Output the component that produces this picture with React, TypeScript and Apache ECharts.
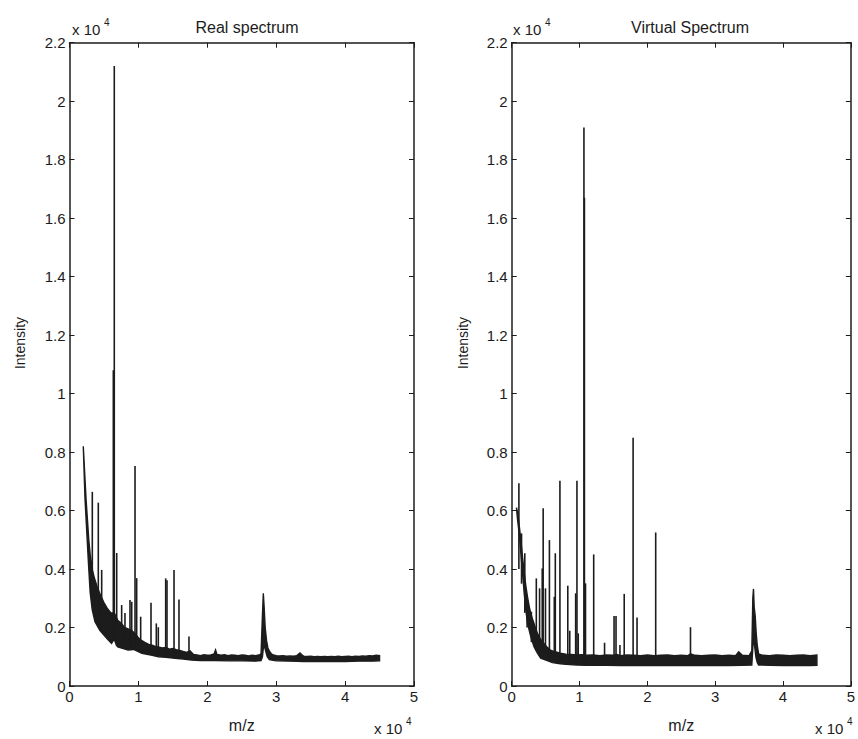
import React, { useEffect, useRef } from "react";
import * as echarts from "echarts";

// ---------- data ----------
const X_TICK_LABELS = ["0", "1", "2", "3", "4", "5"];
const Y_TICK_LABELS = ["0", "0.2", "0.4", "0.6", "0.8", "1", "1.2", "1.4", "1.6", "1.8", "2", "2.2"];
const TITLES = ["Real spectrum", "Virtual Spectrum"];
const X_NAME = "m/z";
const Y_NAME = "Intensity";

// Real spectrum: noisy baseline band (upper / lower envelope), [m/z, intensity]
const REAL_UPPER: number[][] = [
  [2000, 8200], [2200, 7300], [2400, 6400], [2600, 5700], [2800, 5000], [3000, 4500], [3300, 4000],
  [3600, 3700], [4000, 3400], [4500, 3100], [5000, 2850], [5500, 2650], [6000, 2500], [6500, 2500],
  [7000, 2250], [7500, 2150], [8000, 2000], [8500, 1950], [9000, 1900], [9500, 1800], [10000, 1650],
  [10500, 1550], [11000, 1480], [11500, 1420], [12000, 1400], [12500, 1350], [13000, 1330], [13500, 1300],
  [14000, 1320], [14500, 1260], [15000, 1280], [15500, 1240], [16000, 1220], [16500, 1180], [17000, 1150],
  [17500, 1200], [18000, 1080], [18500, 1060], [19000, 1040], [19500, 1070], [20000, 1050], [20500, 1060],
  [21000, 1100], [21200, 1230], [21400, 1080], [22000, 1050], [22500, 1070], [23000, 1040], [23500, 1060],
  [24000, 1050], [24500, 1040], [25000, 1060], [25500, 1050], [26000, 1030], [26500, 1050], [27000, 1040],
  [27500, 1060], [27800, 1100], [28000, 2400], [28130, 3170], [28250, 2700], [28400, 2000], [28600, 1550],
  [28800, 1300], [29000, 1200], [29300, 1100], [29600, 1060], [30000, 1040], [30500, 1030], [31000, 1040],
  [31500, 1020], [32000, 1030], [32500, 1020], [33000, 1040], [33450, 1130], [33800, 1050], [34000, 1020],
  [34500, 1010], [35000, 1020], [35500, 1000], [36000, 1010], [36500, 1000], [37000, 1010], [37500, 1000],
  [38000, 1010], [38500, 1000], [39000, 1020], [39500, 1000], [40000, 1010], [40500, 1020], [41000, 1000],
  [41500, 1020], [42000, 1010], [42500, 1030], [43000, 1020], [43500, 1040], [44000, 1030], [44500, 1050],
  [45000, 1040],
];
const REAL_LOWER: number[][] = [
  [2000, 8200], [2250, 6400], [2500, 5300], [2750, 4200], [3000, 3200], [3300, 2600], [3700, 2200],
  [4400, 1900], [5400, 1630], [6100, 1460], [6500, 1600], [6800, 1400], [7000, 1340], [8500, 1230],
  [9300, 1250], [10500, 1120], [12000, 1050], [12900, 1000], [14000, 980], [15300, 950], [16500, 920],
  [17700, 890], [19000, 870], [21000, 870], [23000, 860], [25000, 860], [27000, 850], [27800, 870],
  [28000, 1000], [28200, 1450], [28400, 1250], [28700, 1000], [29000, 900], [30000, 860], [32000, 850],
  [34000, 840], [36000, 840], [38000, 840], [40000, 840], [42000, 850], [44000, 850], [45000, 860],
];
// Real spectrum sharp peaks: [m/z, base, top]
const REAL_PEAKS: number[][] = [
  [3310, 3000, 6640], [4180, 2200, 6270], [4670, 2000, 3970], [6360, 1600, 10800], [6500, 1600, 21200],
  [6850, 1500, 4550], [7570, 1400, 2770], [8050, 1400, 2500], [8780, 1300, 2940], [9030, 1300, 2880],
  [9510, 1300, 7520], [9750, 1300, 3690], [10330, 1200, 2370], [11830, 1100, 2850], [12600, 1050, 2140],
  [12890, 1050, 2010], [13960, 1000, 3680], [14150, 1000, 3620], [15170, 1000, 3970], [15890, 950, 2960],
  [17340, 950, 1690],
];

// Virtual spectrum
const VIRT_UPPER: number[][] = [
  [700, 6100], [900, 5900], [1100, 5500], [1350, 5000], [1600, 4400], [1840, 3900], [2100, 3400],
  [2330, 3050], [2600, 2700], [2810, 2480], [3050, 2300], [3290, 2140], [3550, 1950], [3790, 1800],
  [4250, 1600], [4740, 1460], [5200, 1330], [5700, 1230], [6400, 1170], [7160, 1120], [8000, 1090],
  [8800, 1080], [9600, 1060], [10400, 1070], [11000, 1050], [12000, 1060], [13000, 1040], [14000, 1060],
  [15000, 1050], [15500, 1080], [16000, 1040], [17000, 1060], [18000, 1050], [19000, 1040], [20000, 1060],
  [21000, 1040], [22000, 1050], [23000, 1060], [24000, 1040], [25000, 1050], [26000, 1040], [26360, 1100],
  [27000, 1050], [28000, 1040], [29000, 1050], [30000, 1060], [31000, 1040], [32000, 1050], [33000, 1040],
  [33470, 1170], [34000, 1050], [35000, 1040], [35400, 1200], [35550, 3000], [35650, 3320], [35750, 2700],
  [35900, 2400], [36050, 1800], [36200, 1400], [36400, 1100], [37000, 1050], [38000, 1040], [39000, 1060],
  [40000, 1050], [41000, 1040], [42000, 1050], [43000, 1060], [44000, 1040], [45000, 1060],
];
const VIRT_LOWER: number[][] = [
  [700, 6100], [870, 5680], [1100, 5220], [1350, 4540], [1600, 3850], [1840, 3170], [2080, 2600],
  [2330, 2140], [2810, 1690], [3290, 1340], [3790, 1120], [4270, 950], [5240, 870], [6000, 800],
  [7160, 760], [8000, 740], [9600, 720], [11000, 710], [12000, 720], [14000, 710], [16000, 700],
  [18000, 710], [20000, 700], [22000, 710], [24000, 700], [26000, 710], [28000, 700], [30000, 710],
  [32000, 700], [34000, 710], [35400, 720], [35600, 1500], [35800, 1400], [36000, 1000], [36200, 800],
  [36400, 720], [38000, 710], [40000, 700], [42000, 710], [44000, 700], [45000, 710],
];
const VIRT_PEAKS: number[][] = [
  [1060, 4000, 6930], [1450, 3500, 5220], [1930, 2500, 4540], [2270, 2000, 3110], [2900, 1500, 2540],
  [3630, 1200, 3680], [4110, 1100, 3340], [4500, 1000, 4020], [4640, 1000, 6080], [4980, 950, 3340],
  [5560, 900, 4990], [6280, 850, 3050], [6430, 850, 4540], [7110, 800, 7020], [8270, 800, 3430],
  [8560, 800, 1890], [9430, 800, 3170], [9620, 800, 7020], [9810, 800, 1800], [10650, 800, 19100],
  [10720, 800, 16700], [10880, 800, 3510], [12090, 800, 4500], [13690, 800, 1480], [15090, 800, 2390],
  [15380, 800, 2390], [15960, 800, 1400], [16590, 800, 3150], [17900, 800, 8490], [18480, 800, 2340],
  [21230, 800, 5250], [26360, 800, 2010],
];

const FONT = "'Liberation Sans', Arial, Helvetica, sans-serif";
const INK = "#1c1c1c";

export default function App() {
  const ref = useRef<HTMLDivElement>(null);

  useEffect(() => {
    if (!ref.current) return;
    const chart = echarts.init(ref.current, null, { renderer: "svg" });

    const grids = [
      { left: 69.5, right: 444, top: 42.7, bottom: 53 },
      { left: 511.7, right: 2, top: 42.7, bottom: 53 },
    ];

    const xAxes: any[] = [];
    const yAxes: any[] = [];
    grids.forEach((_, gi) => {
      const common = {
        gridIndex: gi,
        type: "value",
        axisLine: { show: true, onZero: false, lineStyle: { color: INK, width: 1.5 } },
        axisTick: { show: true, inside: true, length: 5, lineStyle: { color: INK, width: 1 } },
        splitLine: { show: false },
      };
      xAxes.push({
        ...common,
        position: "bottom",
        min: 0,
        max: 50000,
        interval: 10000,
        name: X_NAME,
        nameLocation: "middle",
        nameGap: 31,
        nameTextStyle: { fontFamily: FONT, fontSize: 16, color: INK },
        axisLabel: {
          margin: 3,
          fontFamily: FONT,
          fontSize: 15,
          color: INK,
          formatter: (v: number) => X_TICK_LABELS[Math.round(v / 10000)] ?? "",
        },
      });
      xAxes.push({
        ...common,
        position: "top",
        min: 0,
        max: 50000,
        interval: 10000,
        axisLabel: { show: false },
      });
      yAxes.push({
        ...common,
        position: "left",
        min: 0,
        max: 22000,
        interval: 2000,
        axisLabel: {
          margin: 4,
          fontFamily: FONT,
          fontSize: 15,
          color: INK,
          formatter: (v: number) => Y_TICK_LABELS[Math.round(v / 2000)] ?? "",
        },
      });
      yAxes.push({
        ...common,
        position: "right",
        min: 0,
        max: 22000,
        interval: 2000,
        axisLabel: { show: false },
      });
    });

    const bandSeries = (upper: number[][], lower: number[][], axis: number) => ({
      type: "custom",
      xAxisIndex: axis,
      yAxisIndex: axis,
      clip: true,
      silent: true,
      data: [[upper[0][0], upper[0][1]]],
      renderItem: (_params: any, api: any) => {
        const pts = upper
          .map((p) => api.coord(p))
          .concat(lower.slice().reverse().map((p) => api.coord(p)));
        return {
          type: "polygon",
          shape: { points: pts },
          style: { fill: INK, stroke: INK, lineWidth: 1.4 },
        };
      },
    });

    const peakSeries = (peaks: number[][], axis: number) => ({
      type: "custom",
      xAxisIndex: axis,
      yAxisIndex: axis,
      clip: true,
      silent: true,
      encode: { x: 0, y: [1, 2] },
      data: peaks,
      renderItem: (_params: any, api: any) => {
        const a = api.coord([api.value(0), api.value(1)]);
        const b = api.coord([api.value(0), api.value(2)]);
        return {
          type: "line",
          shape: { x1: a[0], y1: a[1], x2: b[0], y2: b[1] },
          style: { stroke: INK, lineWidth: 1.6 },
        };
      },
    });

    const expLabel = (x: number, yMid: number) => [
      {
        type: "text",
        x,
        y: yMid,
        style: { text: "x 10", font: `15px ${FONT}`, fill: INK, verticalAlign: "middle" },
      },
      {
        type: "text",
        x: x + 32,
        y: yMid - 7,
        style: { text: "4", font: `10px ${FONT}`, fill: INK, verticalAlign: "middle" },
      },
    ];

    const yName = (xMid: number) => ({
      type: "text",
      x: xMid,
      y: 343,
      rotation: Math.PI / 2,
      style: {
        text: Y_NAME,
        font: `14px ${FONT}`,
        fill: INK,
        align: "center",
        verticalAlign: "middle",
      },
    });

    chart.setOption({
      animation: false,
      backgroundColor: "#ffffff",
      title: [
        {
          text: TITLES[0],
          left: 242,
          top: 14,
          textAlign: "center",
          textStyle: { fontFamily: FONT, fontSize: 16, fontWeight: "normal", color: INK },
        },
        {
          text: TITLES[1],
          left: 685,
          top: 14,
          textAlign: "center",
          textStyle: { fontFamily: FONT, fontSize: 16, fontWeight: "normal", color: INK },
        },
      ],
      grid: grids,
      xAxis: xAxes,
      yAxis: yAxes,
      series: [
        bandSeries(REAL_UPPER, REAL_LOWER, 0),
        peakSeries(REAL_PEAKS, 0),
        bandSeries(VIRT_UPPER, VIRT_LOWER, 2),
        peakSeries(VIRT_PEAKS, 2),
      ],
      graphic: [
        ...expLabel(72, 29),
        ...expLabel(513, 29),
        ...expLabel(374, 728),
        ...expLabel(815, 728),
        yName(20),
        yName(463),
      ],
    });

    return () => chart.dispose();
  }, []);

  return (
    <div
      ref={ref}
      style={{ position: "absolute", left: 0, top: 0, width: 858, height: 739 }}
    />
  );
}
